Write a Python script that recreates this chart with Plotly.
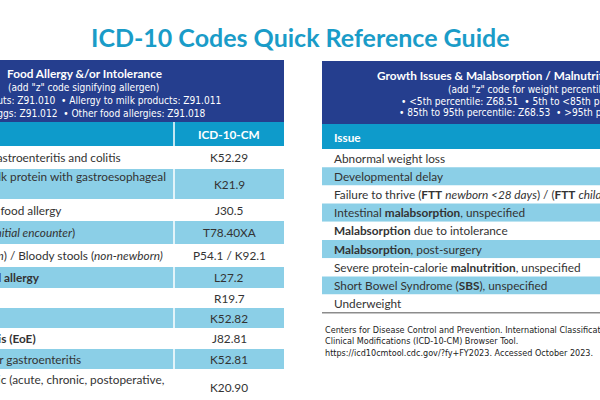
import plotly.graph_objects as go

# ---------------- data ----------------
TITLE = "ICD-10 Codes Quick Reference Guide"

LEFT_TITLE = "Food Allergy &amp;/or Intolerance"
LEFT_SUBTITLE = "(add \"z\" code signifying allergen)"
LEFT_ZCODES = [
    "• Allergy to peanuts: Z91.010\u00a0\u00a0• Allergy to milk products: Z91.011",
    "• Allergy to eggs: Z91.012\u00a0\u00a0• Other food allergies: Z91.018",
]
LEFT_COLUMNS = ["Issue", "ICD-10-CM"]
LEFT_ISSUES = [
    "Allergic gastroenteritis and colitis",
    "Allergy to milk protein with gastroesophageal<br>reflux",
    "Allergic rhinitis due to food allergy",
    "Allergy, unspecified (<i>initial encounter</i>)",
    "Melena (<i>newborn</i>) / Bloody stools (<i>non-newborn)</i>",
    "Dermatitis due to <b>food allergy</b>",
    "Diarrhea",
    "Eosinophilic colitis",
    "<b>Eosinophilic esophagitis (EoE)</b>",
    "Eosinophilic gastritis or gastroenteritis",
    "Esophagitis, non-allergic (acute, chronic, postoperative,<br>reflux)",
]
LEFT_CODES = ["K52.29", "K21.9", "J30.5", "T78.40XA", "P54.1 / K92.1", "L27.2",
              "R19.7", "K52.82", "J82.81", "K52.81", "K20.90"]

RIGHT_TITLE = "Growth Issues &amp; Malabsorption / Malnutrition"
RIGHT_SUBTITLE = "(add \"z\" code for weight percentile)"
RIGHT_ZCODES = [
    "• &lt;5th percentile: Z68.51\u00a0\u00a0• 5th to &lt;85th percentile: Z68.52",
    "• 85th to 95th percentile: Z68.53\u00a0\u00a0• &gt;95th percentile: Z68.54",
]
RIGHT_COLUMNS = ["Issue", "ICD-10-CM"]
RIGHT_ISSUES = [
    "Abnormal weight loss",
    "Developmental delay",
    "Failure to thrive (<b>FTT</b> <i>newborn &lt;28 days</i>) / (<b>FTT</b> <i>child</i>)",
    "Intestinal <b>malabsorption</b>, unspecified",
    "<b>Malabsorption</b> due to intolerance",
    "<b>Malabsorption</b>, post-surgery",
    "Severe protein-calorie <b>malnutrition</b>, unspecified",
    "Short Bowel Syndrome (<b>SBS</b>), unspecified",
    "Underweight",
]
RIGHT_CODES = ["R63.4", "R62.50", "P92.6 / R62.51", "K90.9", "K90.49", "K91.2",
               "E43", "K91.2", "R63.6"]

SOURCE = [
    "Centers for Disease Control and Prevention. International Classification of Diseases, Tenth Revision,",
    "Clinical Modifications (ICD-10-CM) Browser Tool.",
    "https://icd10cmtool.cdc.gov/?fy+FY2023. Accessed October 2023.",
]

# ---------------- styles / layout ----------------
NAVY = "#253e8e"
TEAL = "#0e9bcb"
LIGHT = "#8bcfe7"
TEXT = "#333333"
TITLE_C = "#1a9cc8"
FONT = "Lato"
NARROW = "Liberation Sans Narrow, Arial Narrow, DejaVu Sans Condensed, Liberation Sans"
BODY = 11.8
NARROW_SIZE = 10.1
SOURCE_SIZE = 9.0

# left table geometry
LX0, LX1, LDIV = -118, 284, 174
L_HEAD = (60, 122)
L_COLHEAD = (122, 146)
L_ROW_H = [23, 30, 22, 23, 23, 21, 20, 20, 21, 20, 36]
L_TEXT_END = [123, 168, 63, 77, 165, 42, -30, -30, 38, 83, 167]

# right table geometry
RX0, RX1, RDIV = 322, 780, 640
R_HEAD = (61, 124)
R_COLHEAD = (124, 149)
R_ROW_H = 18.2

shapes = []
ann = []


def rect(x0, x1, y0, y1, color):
    shapes.append(dict(type="rect", xref="x", yref="y", x0=x0, x1=x1, y0=y0, y1=y1,
                       fillcolor=color, line=dict(width=0), layer="below"))


def text(x, y, s, size=BODY, color=TEXT, family=FONT, xanchor="left", weight=None, align="left"):
    f = dict(family=family, size=size, color=color)
    if weight:
        f["weight"] = weight
    ann.append(dict(x=x, y=y, xref="x", yref="y", text=s, showarrow=False,
                    xanchor=xanchor, yanchor="middle", align=align, font=f))


# title
text(300, 37, TITLE, size=25, color=TITLE_C, xanchor="center", weight=700)

# ---- left table ----
rect(LX0, LX1, L_HEAD[0], L_HEAD[1], NAVY)
rect(LX0, LX1, L_COLHEAD[0], L_COLHEAD[1], TEAL)
text(5, 73, LEFT_TITLE, color="white", weight=700)
text(83, 87, LEFT_SUBTITLE, size=NARROW_SIZE, color="white", family=NARROW, xanchor="center")
text(223, 100, LEFT_ZCODES[0], size=NARROW_SIZE, color="white", family=NARROW, xanchor="right")
text(208, 113, LEFT_ZCODES[1], size=NARROW_SIZE, color="white", family=NARROW, xanchor="right")
text(-110, 134, LEFT_COLUMNS[0], color="white", weight=700)
text((LDIV + LX1) / 2, 134, LEFT_COLUMNS[1], color="white", weight=700, xanchor="center")

y = L_COLHEAD[1]
for i, (issue, code) in enumerate(zip(LEFT_ISSUES, LEFT_CODES)):
    h = L_ROW_H[i]
    rect(LX0, LX1, y, y + h, "white" if i % 2 == 0 else LIGHT)
    text(L_TEXT_END[i], y + h / 2, issue, xanchor="right")
    text((LDIV + LX1) / 2, y + h / 2, code, xanchor="center")
    y += h
shapes.append(dict(type="line", xref="x", yref="y", x0=LDIV, x1=LDIV, y0=L_COLHEAD[0], y1=y,
                   line=dict(color="white", width=1.5)))

# ---- right table ----
rect(RX0, RX1, R_HEAD[0], R_HEAD[1], NAVY)
rect(RX0, RX1, R_COLHEAD[0], R_COLHEAD[1], TEAL)
text(375, 75, RIGHT_TITLE, color="white", weight=700)
text(446, 89, RIGHT_SUBTITLE, size=NARROW_SIZE, color="white", family=NARROW)
text(399, 101, RIGHT_ZCODES[0], size=NARROW_SIZE, color="white", family=NARROW)
text(397, 112, RIGHT_ZCODES[1], size=NARROW_SIZE, color="white", family=NARROW)
text(332, 137, RIGHT_COLUMNS[0], color="white", weight=700)
text((RDIV + RX1) / 2, 137, RIGHT_COLUMNS[1], color="white", weight=700, xanchor="center")

y = R_COLHEAD[1]
for i, (issue, code) in enumerate(zip(RIGHT_ISSUES, RIGHT_CODES)):
    rect(RX0, RX1, y, y + R_ROW_H, "white" if i % 2 == 0 else LIGHT)
    text(332, y + R_ROW_H / 2, issue)
    text((RDIV + RX1) / 2, y + R_ROW_H / 2, code, xanchor="center")
    y += R_ROW_H
shapes.append(dict(type="line", xref="x", yref="y", x0=RX0, x1=RX1, y0=y, y1=y,
                   line=dict(color="#8c8c8c", width=1.5)))

for j, line in enumerate(SOURCE):
    text(323, y + 17 + j * 11.5, line, size=SOURCE_SIZE, color="#222222", family=NARROW)

fig = go.Figure()
fig.update_layout(
    width=600, height=400,
    margin=dict(l=0, r=0, t=0, b=0),
    paper_bgcolor="white", plot_bgcolor="white",
    xaxis=dict(range=[0, 600], visible=False, fixedrange=True),
    yaxis=dict(range=[400, 0], visible=False, fixedrange=True),
    shapes=shapes, annotations=ann, showlegend=False,
)
fig.write_html("out.html", config={"displayModeBar": False},
               post_script="document.body.style.margin='0px';")
